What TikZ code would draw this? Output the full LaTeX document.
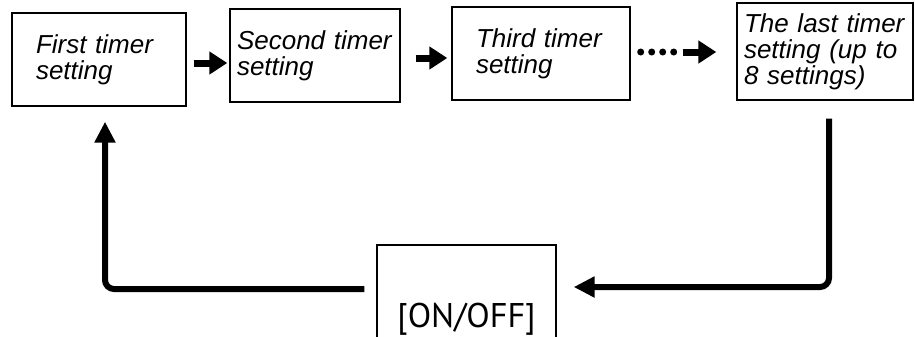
\documentclass[tikz,border=0pt]{standalone}
\usepackage{fontspec}
\setsansfont{Liberation Sans}
\newfontfamily\keyfont{PT Sans}
\usepackage{tikz}
\usetikzlibrary{positioning,arrows.meta}

\begin{document}
\begin{tikzpicture}[x=0.02cm, y=-0.02cm,
  setting/.style={draw, line width=0.8pt, inner xsep=0pt, align=left,
    font=\sffamily\itshape\fontsize{14.8}{14.8}\selectfont},
  keybox/.style={draw, line width=0.8pt, font=\keyfont\fontsize{19.5}{19.5}\selectfont},
  steparrow/.style={line width=0.14cm, -{Triangle[length=0.36cm, width=0.44cm]}},
  dotrow/.style={line width=0.14cm, line cap=round, dash pattern=on 0pt off 0.22cm},
  loopline/.style={line width=0.12cm, rounded corners=0.18cm,
    -{Triangle[length=0.42cm, width=0.4cm]}}]
  \useasboundingbox (0,0) rectangle (915,336);
  \node[setting, minimum width=3.48cm, minimum height=1.86cm, text width=2.52cm]
    (first) at (99,59.5) {First timer\\setting};
  \node[setting, minimum width=3.4cm, minimum height=1.86cm, text width=3.12cm]
    (second) at (315,55.5) {Second timer\\setting};
  \node[setting, minimum width=3.56cm, minimum height=1.86cm, text width=2.6cm]
    (third) at (541,53.5) {Third timer\\setting};
  \node[setting, minimum width=3.52cm, minimum height=1.94cm, text width=3.24cm]
    (last) at (825,51.5) {The last timer\\setting (up to\\8 settings)};
  \node[keybox, minimum width=3.58cm, minimum height=2.96cm] (onoff) at (466.5,319) {[ON/OFF]};
  \draw[steparrow, shorten <=0.14cm, shorten >=0.04cm] (first.east |- 0,63) -- (second.west |- 0,63);
  \draw[steparrow, shorten <=0.3cm, shorten >=0.08cm] (second.east |- 0,58) -- (third.west |- 0,58);
  \draw[dotrow] (third.east |- 0,52) ++(10,0) -- ++(33,0);
  \draw[steparrow, shorten <=1.04cm, shorten >=0.4cm] (third.east |- 0,52) -- (last.west |- 0,52);
  \draw[loopline, shorten <=0.36cm, shorten >=0.34cm] (last.south -| 829,0) |- (onoff.east |- 0,287);
  \draw[loopline, shorten <=0.24cm, shorten >=0.3cm] (onoff.west |- 0,289) -| (first.south -| 105,0);
\end{tikzpicture}
\end{document}
